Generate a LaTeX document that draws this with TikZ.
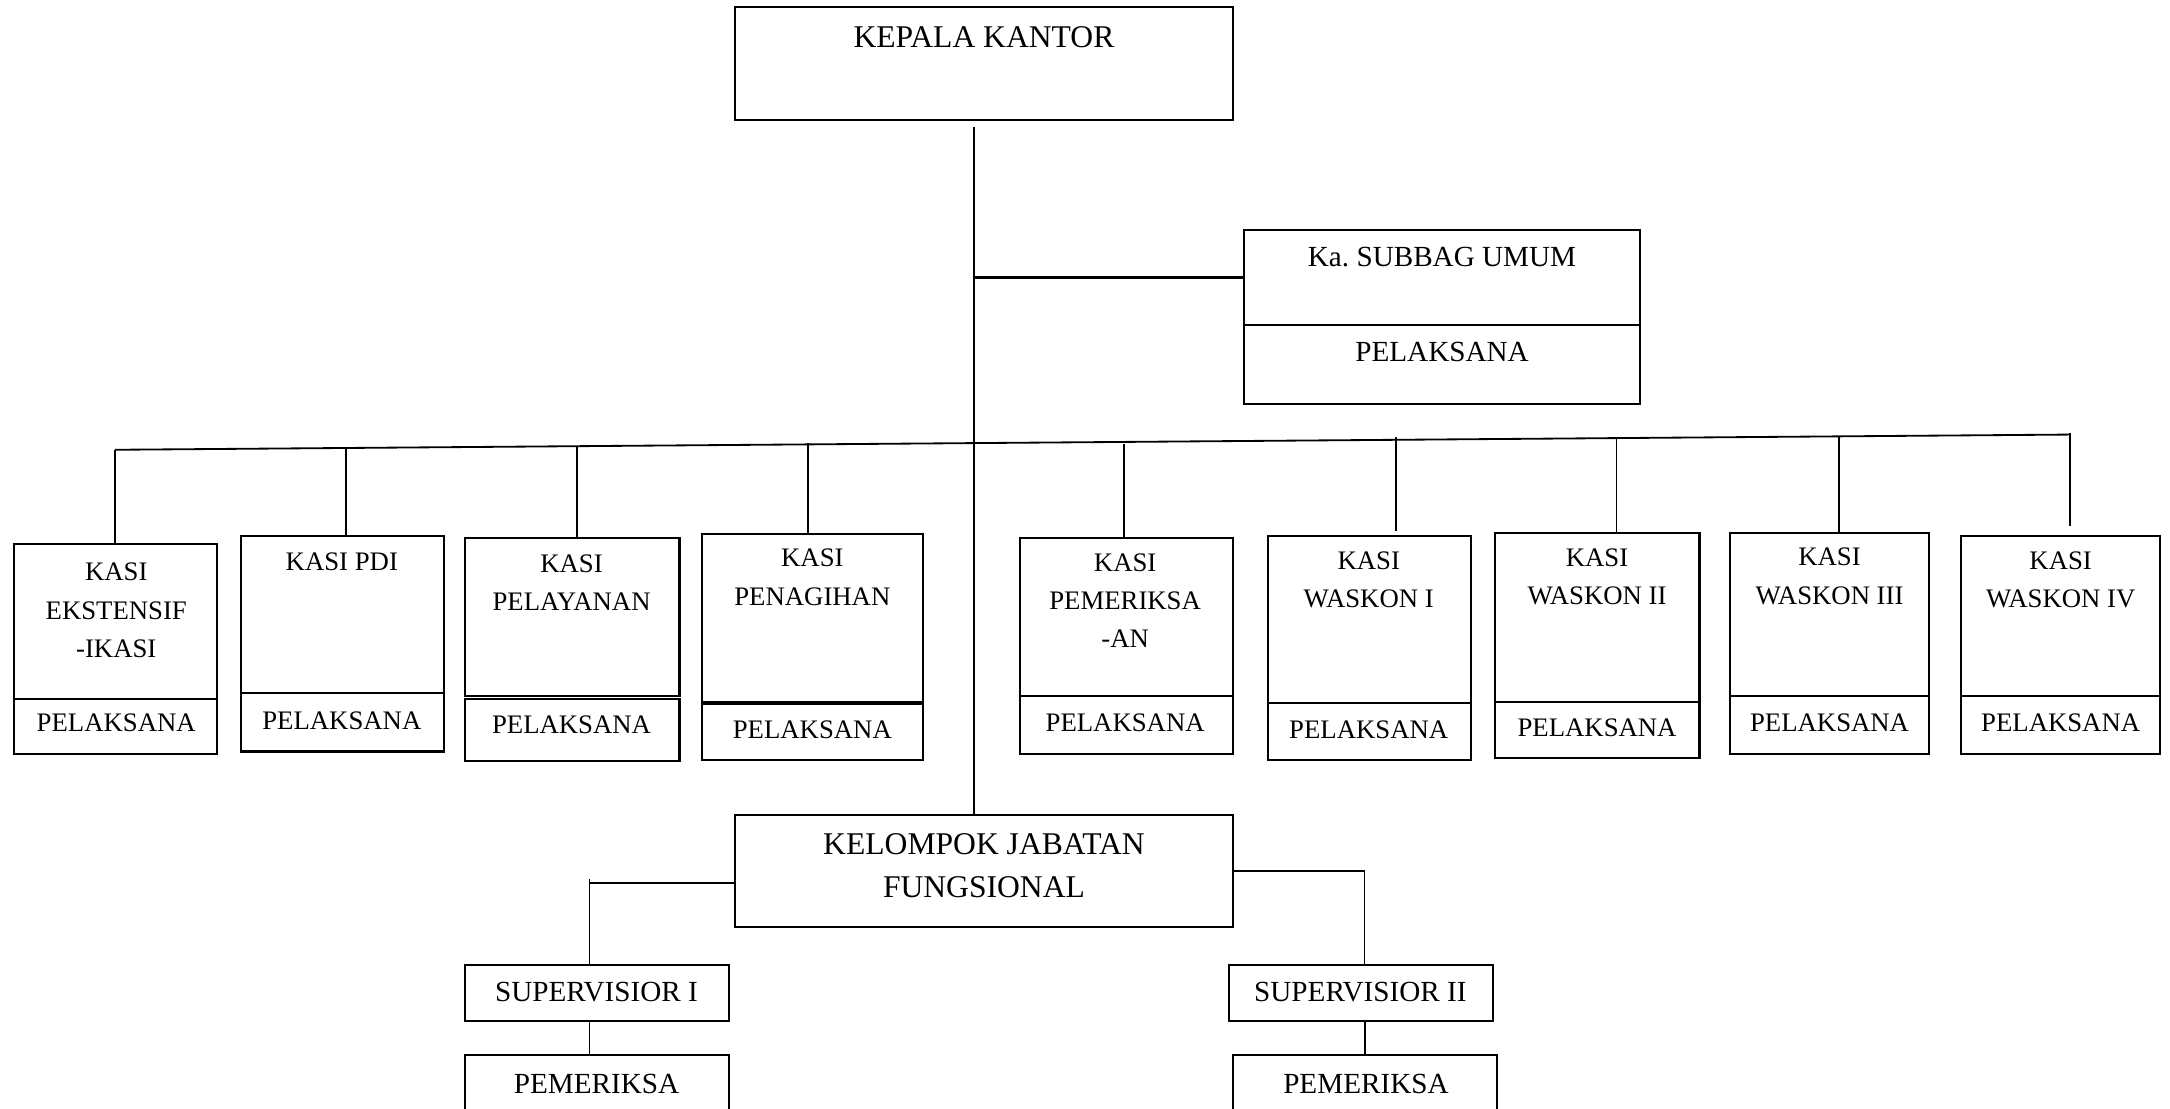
\documentclass[tikz,border=0pt]{standalone}
\usepackage{fontspec}
\setmainfont{Liberation Serif}
\usepackage{tikz}
\usetikzlibrary{fit,positioning}

\begin{document}
\begin{tikzpicture}[x=0.02cm,y=-0.02cm,
box/.style={draw,line width=0.85pt,inner sep=0pt},
con/.style={draw,line width=0.75pt},
big/.style={font=\fontsize{13}{17.6}\selectfont,align=center,inner sep=0pt},
mid/.style={font=\fontsize{12}{16}\selectfont,align=center,inner sep=0pt},
sml/.style={font=\fontsize{11}{15.8}\selectfont,align=center,inner sep=0pt}]
\useasboundingbox (0,0) rectangle (1568,801);
\clip (0,0) rectangle (1568,801);

\node[box,fit={(531,5)(891,87)}] (kepala) {};
\node[big] (kepala-t) at (711,27) {KEPALA KANTOR};
\node[box,fit={(899,166)(1185,235)}] (subbag) {};
\node[box,fit={(899,235)(1185,292)}] (subbag-p) {};
\node[mid] (subbag-t) at (1042,186) {Ka.\ SUBBAG UMUM};
\node[mid] (subbag-pt) at (1042,254) {PELAKSANA};

\node[box,fit={(10,393)(157,505)}] (ext) {};
\node[box,fit={(10,505)(157,545)}] (ext-p) {};
\node[sml] (ext-t) at (84,441) {KASI\\EKSTENSIF\\-IKASI};
\node[sml] (ext-pt) at (84,522) {PELAKSANA};
\node[box,fit={(174,387)(321,501)}] (pdi) {};
\node[box,fit={(174,501)(321,543)}] (pdi-p) {};
\node[sml] (pdi-t) at (247,406) {KASI PDI};
\node[sml] (pdi-pt) at (247,521) {PELAKSANA};
\node[box,fit={(336,389)(491,503)}] (pel) {};
\node[box,fit={(336,505)(491,550)}] (pel-p) {};
\node[sml] (pel-t) at (413,421) {KASI\\PELAYANAN};
\node[sml] (pel-pt) at (413,524) {PELAKSANA};
\node[box,fit={(507,386)(667,507)}] (pen) {};
\node[box,fit={(507,508.5)(667,549)}] (pen-p) {};
\node[sml] (pen-t) at (587,417) {KASI\\PENAGIHAN};
\node[sml] (pen-pt) at (587,527) {PELAKSANA};
\node[box,fit={(737,389)(891,503)}] (pem) {};
\node[box,fit={(737,503)(891,545)}] (pem-p) {};
\node[sml] (pem-t) at (813,434) {KASI\\PEMERIKSA\\-AN};
\node[sml] (pem-pt) at (813,522) {PELAKSANA};
\node[box,fit={(916,387)(1063,508)}] (w1) {};
\node[box,fit={(916,508)(1063,549)}] (w1-p) {};
\node[sml] (w1-t) at (989,419) {KASI\\WASKON I};
\node[sml] (w1-pt) at (989,527) {PELAKSANA};
\node[box,fit={(1080,385)(1228,507)}] (w2) {};
\node[box,fit={(1080,507)(1228,548)}] (w2-p) {};
\node[sml] (w2-t) at (1154,417) {KASI\\WASKON II};
\node[sml] (w2-pt) at (1154,526) {PELAKSANA};
\node[box,fit={(1250,385)(1394,503)}] (w3) {};
\node[box,fit={(1250,503)(1394,545)}] (w3-p) {};
\node[sml] (w3-t) at (1322,416.5) {KASI\\WASKON III};
\node[sml] (w3-pt) at (1322,522) {PELAKSANA};
\node[box,fit={(1417,387)(1561,503)}] (w4) {};
\node[box,fit={(1417,503)(1561,545)}] (w4-p) {};
\node[sml] (w4-t) at (1489,419) {KASI\\WASKON IV};
\node[sml] (w4-pt) at (1489,522) {PELAKSANA};

\node[box,fit={(531,589)(891,670)}] (kjf) {};
\node[big] (kjf-t) at (711,625.5) {KELOMPOK JABATAN\\FUNGSIONAL};
\node[box,fit={(336,697)(527,738)}] (sup1) {};
\node[mid] (sup1-t) at (431,717) {SUPERVISIOR I};
\node[box,fit={(888,697)(1079,738)}] (sup2) {};
\node[mid] (sup2-t) at (983,717) {SUPERVISIOR II};
\node[box,fit={(336,762)(527,830)}] (pmr1) {};
\node[mid] (pmr1-t) at (431,783) {PEMERIKSA};
\node[box,fit={(891,762)(1082,830)}] (pmr2) {};
\node[mid] (pmr2-t) at (987,783) {PEMERIKSA};

\coordinate (trunk) at (704,92);
\draw[con] (trunk) -- (trunk |- kjf.north);
\draw[con,line width=0.9pt] (trunk |- subbag.west) -- (subbag.west);

\coordinate (busL) at (83,325);
\coordinate (busR) at (1496,314);
\draw[con] (busL) -- (busR);
\draw[con] (busL) -- (busL |- ext.north);
\coordinate (d-pdi) at (250,324);
\draw[con] (d-pdi) -- (d-pdi |- pdi.north);
\coordinate (d-pel) at (417,323);
\draw[con] (d-pel) -- (d-pel |- pel.north);
\coordinate (d-pen) at (584,320);
\draw[con] (d-pen) -- (d-pen |- pen.north);
\coordinate (d-pem) at (812,321);
\draw[con] (d-pem) -- (d-pem |- pem.north);
\coordinate (d-w1) at (1009,316);
\coordinate (e-w1) at (1009,384);
\draw[con] (d-w1) -- (e-w1);
\coordinate (d-w2) at (1168,317);
\draw[con] (d-w2) -- (d-w2 |- w2.north);
\coordinate (d-w3) at (1329,316);
\draw[con] (d-w3) -- (d-w3 |- w3.north);
\coordinate (d-w4) at (1496,313);
\coordinate (e-w4) at (1496,380);
\draw[con] (d-w4) -- (e-w4);

\coordinate (tick1) at (426,635);
\coordinate (kjf-l) at ([yshift=-0.17cm]kjf.west);
\draw[con] (tick1) -- (tick1 |- sup1.north);
\draw[con] (kjf-l) -- (tick1 |- kjf-l);
\draw[con] ([xshift=-0.11cm]sup1.south) -- ([xshift=-0.11cm]pmr1.north);
\draw[con] (kjf.east) -| ([xshift=0.05cm]sup2.north);
\draw[con] (pmr2.north |- sup2.south) -- (pmr2.north);
\end{tikzpicture}
\end{document}
